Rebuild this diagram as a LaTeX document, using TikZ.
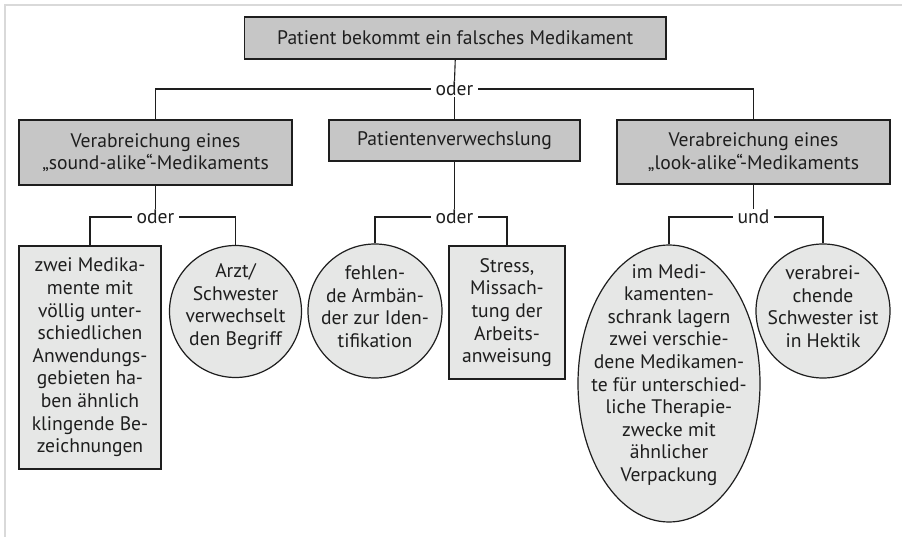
\documentclass[tikz,border=0pt]{standalone}
\usepackage{fontspec}
\setmainfont{PT Sans}
\usetikzlibrary{shapes.geometric}
\definecolor{boxdark}{HTML}{C6C6C6}
\definecolor{boxlight}{HTML}{E6E7E6}
\definecolor{framegray}{HTML}{D9D9D9}
\definecolor{ink}{HTML}{1E1E1E}
\begin{document}
\begin{tikzpicture}[x=1pt,y=-1pt,
  every node/.style={font=\fontsize{19.6}{22.6}\selectfont, text=ink},
  headbox/.style={draw=ink, fill=boxdark, line width=1.2pt, inner sep=0pt, align=center},
  leafbox/.style={draw=ink, fill=boxlight, line width=1.2pt, inner sep=0pt, align=center},
  leafround/.style={draw=ink, fill=boxlight, line width=1.2pt, circle, inner sep=0pt},
  leafoval/.style={draw=ink, fill=boxlight, line width=1.2pt, ellipse, inner sep=0pt},
  gate/.style={fill=white, inner xsep=4pt, inner ysep=1pt},
  txt/.style={align=center, inner sep=0pt},
  link/.style={draw=ink, line width=1.1pt}]
\useasboundingbox (0,0) rectangle (902,537);
\draw[framegray, line width=2pt] (5,537) -- (5,5) -- (902,5);

% level 0 and 1
\node[headbox, minimum width=421.5pt, minimum height=42pt] (top) at (455.25,38) {Patient bekommt ein falsches Medikament};
\node[gate] (o1) at (454.5,89) {oder};
\node[headbox, minimum width=273pt, minimum height=65pt] (L) at (155.5,152.5) {Verabreichung eines\\„sound-alike“-Medikaments};
\node[headbox, minimum width=251pt, minimum height=41pt] (M) at (454.5,140.5) {Patientenverwechslung};
\node[headbox, minimum width=273pt, minimum height=64pt] (R) at (753.5,152) {Verabreichung eines\\„look-alike“-Medikaments};

% gates level 2
\node[gate] (o2) at (155.5,217) {oder};
\node[gate] (o3) at (454.5,217) {oder};
\node[gate] (o4) at (753.5,217) {und};

% leaves
\node[leafbox, minimum width=142pt, minimum height=223pt] (l1) at (90,357.5) {zwei Medika-\\mente mit\\völlig unter-\\schiedlichen\\Anwendungs-\\gebieten ha-\\ben ähnlich\\klingende Be-\\zeichnungen};
\node[leafround, minimum size=132pt] (l2) at (235.5,311.5) {};
\node[txt] (l2t) at (235.5,306.5) {Arzt/\\Schwester\\verwechselt\\den Begriff};
\node[leafround, minimum size=134pt] (l3) at (375,311) {};
\node[txt] (l3t) at (375,306.5) {fehlen-\\de Armbän-\\der zur Iden-\\tifikation};
\node[leafbox, minimum width=116pt, minimum height=133pt] (l4) at (507,312.5) {Stress,\\Missach-\\tung der\\Arbeits-\\anweisung};
\node[leafoval, minimum width=182pt, minimum height=277pt] (l5) at (669,383.5) {};
\node[txt] (l5t) at (669,375) {im Medi-\\kamenten-\\schrank lagern\\zwei verschie-\\dene Medikamen-\\te für unterschied-\\liche Therapie-\\zwecke mit\\ähnlicher\\Verpackung};
\node[leafround, minimum size=134pt] (l6) at (823,311) {};
\node[txt] (l6t) at (823,306.5) {verabrei-\\chende\\Schwester ist\\in Hektik};

% connectors
\draw[link] (top.south) -- (o1.north);
\draw[link] (o1.south) -- (M.north);
\draw[link] (L.north) |- (o1.west);
\draw[link] (R.north) |- (o1.east);

\draw[link] (L.south) -- (o2.north);
\draw[link] (l1.north) |- (o2.west);
\draw[link] (l2.north) |- (o2.east);

\draw[link] (M.south) -- (o3.north);
\draw[link] (l3.north) |- (o3.west);
\draw[link] (l4.north) |- (o3.east);

\draw[link] (R.south) -- (o4.north);
\draw[link] (l5.north) |- (o4.west);
\draw[link] (l6.north) |- (o4.east);
\end{tikzpicture}
\end{document}
